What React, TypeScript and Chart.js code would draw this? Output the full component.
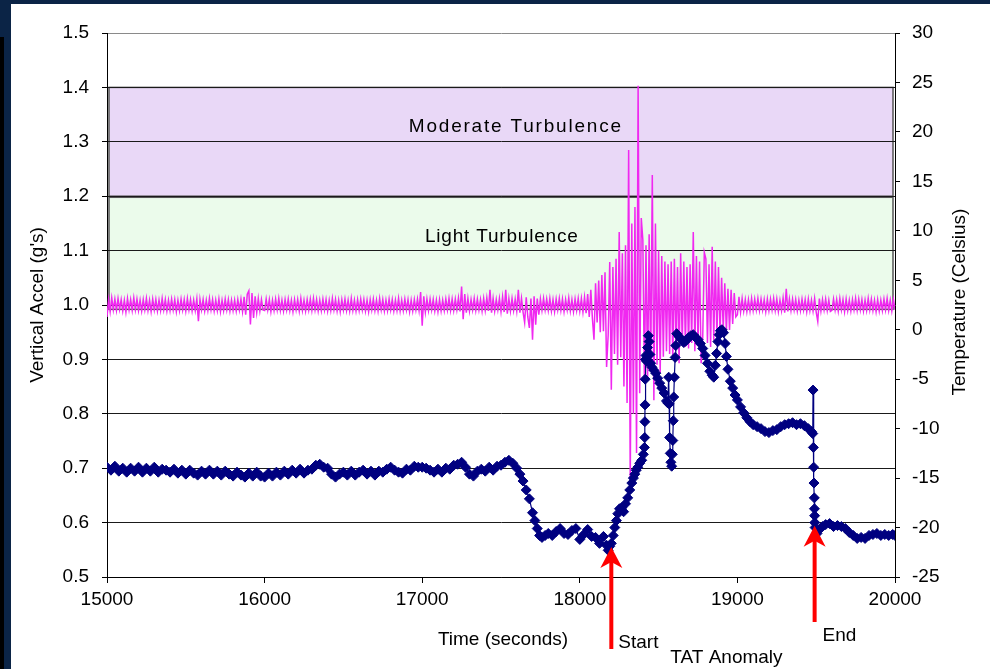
import React, { useEffect, useRef } from 'react';
import { Chart, registerables } from 'chart.js';

Chart.register(...registerables);

// ---------- axis ranges ----------
const X_MIN = 15000;
const X_MAX = 20000;
const X_STEP = 1000;
const ACCEL_MIN = 0.5;
const ACCEL_MAX = 1.5;
const ACCEL_TICK = 0.1;
const TEMP_MIN = -25;
const TEMP_MAX = 30;
const TEMP_TICK = 5;

// ---------- temperature (Celsius) readings ----------
const tempTimes = [
  15000, 15025, 15050, 15075, 15100, 15125, 15150, 15175, 15200, 15225,
  15250, 15275, 15300, 15325, 15350, 15375, 15400, 15425, 15450, 15475,
  15500, 15525, 15550, 15575, 15600, 15625, 15650, 15675, 15700, 15725,
  15750, 15775, 15800, 15825, 15850, 15875, 15900, 15925, 15950, 15975,
  16000, 16025, 16050, 16075, 16100, 16125, 16150, 16175, 16200, 16225,
  16250, 16275, 16300, 16325, 16350, 16375, 16400, 16425, 16450, 16475,
  16500, 16525, 16550, 16575, 16600, 16625, 16650, 16675, 16700, 16725,
  16750, 16775, 16800, 16825, 16850, 16875, 16900, 16925, 16950, 16975,
  17000, 17025, 17050, 17075, 17100, 17125, 17150, 17175, 17200, 17225,
  17250, 17275, 17300, 17325, 17350, 17375, 17400, 17425, 17450, 17475,
  17500, 17525, 17550, 17575, 17600, 17620, 17640, 17660, 17680, 17700,
  17715, 17730, 17745, 17760, 17780, 17800, 17825, 17850, 17875, 17900,
  17925, 17950, 17975, 18000, 18025, 18050, 18075, 18100, 18125, 18150,
  18170, 18180, 18190, 18200, 18212, 18222, 18232, 18241, 18252, 18266,
  18278, 18290, 18304, 18317, 18330, 18340, 18349, 18358, 18368, 18380,
  18393, 18403, 18410, 18412, 18413, 18414, 18415, 18417, 18420, 18425,
  18430, 18435, 18440, 18445, 18450, 18458, 18470, 18482, 18494, 18507,
  18520, 18535, 18550, 18558, 18564, 18567, 18570, 18574, 18578, 18583,
  18587, 18590, 18593, 18596, 18600, 18605, 18609, 18615, 18630, 18645,
  18660, 18675, 18690, 18705, 18720, 18735, 18750, 18765, 18780, 18795,
  18810, 18825, 18840, 18850, 18860, 18868, 18876, 18884, 18892, 18902,
  18912, 18922, 18930, 18940, 18955, 18970, 18985, 19000, 19020, 19040,
  19060, 19080, 19100, 19125, 19150, 19175, 19200, 19225, 19250, 19275,
  19300, 19325, 19350, 19375, 19400, 19425, 19450, 19470, 19478, 19480,
  19482, 19484, 19486, 19488, 19489, 19490, 19491, 19493, 19505, 19520,
  19540, 19560, 19585, 19610, 19635, 19660, 19685, 19710, 19735, 19760,
  19785, 19810, 19835, 19860, 19885, 19910, 19935, 19960, 19985, 20000,
];
const tempValues = [
  -13.9, -14.2, -13.8, -14.3, -14.0, -14.4, -14.0, -14.3, -13.9, -14.4,
  -14.0, -14.3, -13.9, -14.4, -14.1, -14.2, -14.4, -14.1, -14.5, -14.2,
  -14.6, -14.2, -14.5, -14.7, -14.3, -14.6, -14.2, -14.6, -14.3, -14.7,
  -14.3, -14.6, -14.8, -14.4, -14.7, -14.9, -14.5, -14.8, -14.4, -14.8,
  -14.9, -14.5, -14.8, -14.4, -14.7, -14.3, -14.6, -14.2, -14.5, -14.1,
  -14.5, -14.2, -14.1, -13.7, -13.6, -13.9, -14.0, -14.6, -14.9, -14.6,
  -14.4, -14.7, -14.3, -14.7, -14.4, -14.2, -14.6, -14.3, -14.7, -14.3,
  -14.4, -14.1, -13.9, -14.2, -14.4, -14.5, -14.1, -14.2, -13.8, -13.9,
  -13.9, -14.0, -14.2, -14.4, -14.1, -14.4, -14.0, -14.1, -13.7, -13.6,
  -13.4, -13.9, -14.6, -14.8, -14.3, -14.1, -14.3, -13.9, -14.2, -13.8,
  -13.7, -13.4, -13.2, -13.5, -14.0, -14.6, -15.3, -16.2, -17.1, -18.5,
  -19.3, -20.1, -20.8, -21.0, -20.8, -20.6, -20.8, -20.4, -20.1, -20.6,
  -20.7, -20.3, -20.1, -21.2, -20.7, -20.2, -20.9, -21.0, -21.6, -20.9,
  -21.8, -22.3, -21.9, -21.6, -20.8, -20.0, -19.3, -18.6, -18.1, -18.0,
  -18.4, -17.6, -17.0, -16.2, -15.5, -15.0, -14.6, -14.2, -13.9, -13.5,
  -13.2, -12.6, -11.9, -10.9, -9.3, -7.6, -5.0, -3.0, -2.6, -3.2,
  -1.8, -0.6, -1.2, -2.5, -3.4, -3.8, -4.1, -4.4, -4.9, -5.4,
  -5.9, -6.4, -7.2, -7.4, -4.8, -7.5, -10.9, -12.5, -13.4, -13.8,
  -12.6, -11.2, -9.2, -6.8, -4.8, -2.8, -1.6, -0.4, -0.7, -1.0,
  -1.3, -1.1, -0.8, -0.6, -0.5, -0.8, -1.0, -1.4, -1.9, -2.6,
  -3.4, -4.2, -4.6, -4.8, -3.6, -2.4, -1.2, -0.5, -0.1, 0.0,
  -0.3, -1.4, -2.7, -4.0, -5.2, -5.9, -6.6, -7.1, -7.8, -8.4,
  -8.9, -9.3, -9.6, -9.8, -10.0, -10.3, -10.4, -10.2, -10.1, -9.8,
  -9.6, -9.5, -9.4, -9.6, -9.5, -9.7, -10.0, -10.3, -10.5, -6.1,
  -11.9, -13.9, -15.5, -17.0, -18.1, -18.8, -19.5, -20.0, -20.6, -20.2,
  -19.9, -19.7, -19.6, -19.9, -19.8, -19.9, -20.1, -20.5, -20.8, -21.1,
  -21.0, -21.1, -20.8, -20.7, -20.6, -20.8, -20.7, -20.8, -20.7, -20.8,
];

// ---------- vertical acceleration: deviation from 1 g, in milli-g, one reading every 10 s ----------
const accelStartTime = 15000;
const accelStepSeconds = 10;
const accelDevMilliG = [
  -22, 10, -12, 13, -9, 11, -10, 12, -8, 10, -11, 9, -13, 12, -9, 10, -10, 13, -9, 11,
  -10, 9, -11, 10, -9, 12, -10, 9, -12, 11, -9, 10, -11, 9, -10, 12, -9, 10, -11, 9,
  -10, 11, -9, 10, -12, 9, -10, 11, -9, 10, -11, 12, -9, 10, -11, 9, -10, 11, -30, 10,
  -9, 10, -11, 9, -10, 12, -9, 10, -11, 9, -10, 11, -12, 9, -10, 11, -9, 10, -11, 9,
  -10, 9, -11, 10, -9, 11, -12, 15, -18, 20, 26, -36, 22, -24, 16, -14, 12, -11, 10, -9,
  -10, 11, -9, 10, -12, 9, -10, 11, -9, 12, -10, 9, -11, 10, -9, 11, -10, 9, -12, 10,
  -9, 10, -11, 12, -10, 9, -11, 10, -9, 11, -10, 12, -9, 10, -11, 9, -10, 11, -9, 10,
  -11, 9, -10, 12, -9, 10, -11, 9, -12, 10, -9, 11, -10, 9, -11, 12, -10, 9, -11, 10,
  -10, 11, -9, 10, -11, 9, -12, 10, -9, 11, -10, 9, -11, 12, -9, 10, -11, 9, -10, 11,
  -9, 10, -11, 9, -10, 12, -11, 9, -10, 11, -9, 10, -12, 9, -11, 10, -9, 11, -10, 24,
  -38, 16, -13, 11, -10, 11, -9, 10, -11, 9, -12, 10, -11, 9, -10, 11, -9, 12, -10, 11,
  -10, 11, -9, 13, -12, 34, -26, 20, -14, 12, -11, 10, -9, 12, -10, 11, -9, 10, -11, 12,
  -10, 13, -11, 28, -14, 12, -11, 10, -9, 12, -12, 15, -13, 28, -16, 12, -11, 12, -10, 11,
  -11, 28, -14, 12, -13, -32, 14, -22, -42, 12, -64, 16, -36, 12, -18, 11, -10, 12, -9, 11,
  -10, 12, -11, 10, -12, 11, -9, 12, -10, 11, -12, 10, -9, 13, -11, 10, -12, 11, -10, 12,
  -11, 12, -13, 14, -15, 20, -22, 28, -25, -64, 40, -32, 45, -50, 55, -48, 60, -114, -55, 79,
  -156, 70, -90, 85, -110, 134, -96, 95, -150, 110, -180, 285, -327, 150, -200, 180, -272, 403, -162, 160,
  120, -140, 110, -138, 130, -120, 239, -175, 150, -110, 100, -125, 90, -95, 80, -85, 75, -90, 80, -101,
  85, -80, 70, -107, 95, -75, 80, -77, 70, -80, 75, -70, 134, -85, 90, -75, 80, -107, -60, 97,
  85, -70, 75, -77, 107, -65, 80, -60, 70, -55, 50, -46, 40, -50, 30, -46, 28, -35, 22, -22,
  -18, 15, -13, 12, -11, 10, -12, 10, -11, 12, -10, 11, -9, 12, -10, 11, -9, 10, -12, 11,
  -10, 11, -9, 12, -10, 11, -12, 9, -10, 13, -14, 30, -12, 11, -10, 11, -9, 10, -11, 9,
  -10, 11, -9, 10, -12, 11, -10, 9, -11, 12, -13, -30, 12, -11, 10, -9, 11, -10, 9, -12,
  -10, 11, -9, 10, -11, 12, -9, 10, -12, 11, -10, 9, -11, 10, -9, 12, -10, 11, -9, 10,
  -11, 9, -10, 12, -9, 11, -10, 9, -12, 10, -11, 9, -10, 11, -9, 12, -10, 9, -11, 10,
  -9,
];

// ---------- turbulence bands (g) ----------
const bandNames = ['Moderate Turbulence', 'Light Turbulence'];
const bandLow = [1.2, 0.992];
const bandHigh = [1.4, 1.198];

// ---------- event markers ----------
const eventTimes = [18200, 19490];
const eventLabels = ['Start', 'End'];
const eventTipAccel = [0.555, 0.594];
const eventNote = 'TAT Anomaly';

const FONT = "'Liberation Sans', Arial, Helvetica, sans-serif";
const BAND_FILLS = ['#e9d8f7', '#ebfbeb'];

const decorPlugin = {
  id: 'decor',
  beforeDraw(chart: any) {
    const { ctx, chartArea: ca, scales } = chart;
    const y = scales.y;
    ctx.save();
    ctx.fillStyle = '#ffffff';
    ctx.fillRect(0, 0, chart.width, chart.height);
    ctx.fillStyle = '#0b2446';
    ctx.fillRect(0, 0, chart.width, 4);
    ctx.fillRect(0, 0, 11, chart.height);
    ctx.fillStyle = '#000000';
    ctx.fillRect(0, 37, 4, chart.height - 37);
    for (let i = 0; i < bandNames.length; i++) {
      const top = y.getPixelForValue(bandHigh[i]);
      const bot = y.getPixelForValue(bandLow[i]);
      ctx.fillStyle = BAND_FILLS[i];
      ctx.fillRect(ca.left + 2, top, ca.right - ca.left - 4, bot - top);
      ctx.strokeStyle = '#555555';
      ctx.lineWidth = 1.5;
      ctx.strokeRect(ca.left + 2, top, ca.right - ca.left - 4, bot - top);
    }
    ctx.restore();
  },
  afterDraw(chart: any) {
    const { ctx, chartArea: ca, scales } = chart;
    const x = scales.x;
    const y = scales.y;
    ctx.save();
    ctx.font = `19px ${FONT}`;
    ctx.fillStyle = '#000000';
    ctx.textBaseline = 'middle';
    // band labels
    ctx.textAlign = 'center';
    (ctx as any).letterSpacing = '1.8px';
    ctx.fillText(bandNames[0], x.getPixelForValue(17594), y.getPixelForValue(1.328));
    (ctx as any).letterSpacing = '0.8px';
    ctx.fillText(bandNames[1], x.getPixelForValue(17505), y.getPixelForValue(1.126));
    (ctx as any).letterSpacing = '0px';
    // axis titles
    ctx.fillText('Time (seconds)', (ca.left + ca.right) / 2 + 2, ca.bottom + 63);
    ctx.save();
    ctx.translate(38, (ca.top + ca.bottom) / 2);
    ctx.rotate(-Math.PI / 2);
    ctx.fillText("Vertical Accel (g's)", 0, 0);
    ctx.restore();
    ctx.save();
    ctx.translate(960, (ca.top + ca.bottom) / 2 - 3);
    ctx.rotate(-Math.PI / 2);
    ctx.fillText('Temperature (Celsius)', 0, 0);
    ctx.restore();
    // event arrows
    const bottoms = [ca.bottom + 72, ca.bottom + 45];
    ctx.fillStyle = '#ff0000';
    ctx.strokeStyle = '#ff0000';
    for (let i = 0; i < eventTimes.length; i++) {
      const px = x.getPixelForValue(eventTimes[i]);
      const tip = y.getPixelForValue(eventTipAccel[i]);
      ctx.lineWidth = 4;
      ctx.beginPath();
      ctx.moveTo(px, bottoms[i]);
      ctx.lineTo(px, tip + 14);
      ctx.stroke();
      ctx.beginPath();
      ctx.moveTo(px, tip);
      ctx.lineTo(px + 11, tip + 21);
      ctx.lineTo(px, tip + 15);
      ctx.lineTo(px - 11, tip + 21);
      ctx.closePath();
      ctx.fill();
    }
    ctx.fillStyle = '#000000';
    ctx.textAlign = 'left';
    const sx = x.getPixelForValue(eventTimes[0]);
    const ex = x.getPixelForValue(eventTimes[1]);
    ctx.fillText(eventLabels[0], sx + 7, ca.bottom + 66);
    ctx.fillText(eventNote, sx + 59, ca.bottom + 81);
    ctx.fillText(eventLabels[1], ex + 8, ca.bottom + 59);
    ctx.restore();
  },
};

export default function App() {
  const ref = useRef<HTMLCanvasElement | null>(null);
  useEffect(() => {
    if (!ref.current) return;
    Chart.defaults.font.family = FONT;
    Chart.defaults.font.size = 19;
    Chart.defaults.color = '#000000';
    const tempData = tempTimes.map((t, i) => ({ x: t, y: tempValues[i] }));
    const accelData = accelDevMilliG.map((d, i) => ({
      x: accelStartTime + i * accelStepSeconds,
      y: 1 + d / 1000,
    }));
    const chart = new Chart(ref.current, {
      type: 'line',
      data: {
        datasets: [
          {
            label: 'Temperature',
            data: tempData,
            xAxisID: 'x',
            yAxisID: 'y1',
            borderColor: '#000080',
            borderWidth: 1.2,
            pointStyle: 'rectRot',
            pointRadius: 5,
            pointBorderWidth: 1,
            pointBackgroundColor: '#000080',
            pointBorderColor: '#000080',
            tension: 0,
          },
          {
            label: 'Vertical Accel',
            data: accelData,
            xAxisID: 'x',
            yAxisID: 'y',
            borderColor: '#f028f0',
            borderWidth: 1.5,
            pointRadius: 0,
            tension: 0,
          },
        ],
      },
      options: {
        animation: false,
        responsive: false,
        events: [],
        layout: { padding: { top: 33, left: 0, right: 0, bottom: 0 } },
        plugins: { legend: { display: false }, tooltip: { enabled: false } },
        scales: {
          x: {
            type: 'linear',
            min: X_MIN,
            max: X_MAX,
            afterFit: (s: any) => { s.height = 92; },
            ticks: { stepSize: X_STEP, padding: 5, callback: (v: any) => String(v), maxRotation: 0 },
            grid: { drawOnChartArea: false, drawTicks: true, tickLength: 6, tickColor: '#000' },
            border: { color: '#000', width: 1 },
          },
          y: {
            type: 'linear',
            position: 'left',
            min: ACCEL_MIN,
            max: ACCEL_MAX,
            afterFit: (s: any) => { s.width = 107; },
            ticks: { stepSize: ACCEL_TICK, padding: 13, callback: (v: any) => Number(v).toFixed(1) },
            grid: {
              color: (c: any) => (c.tick && c.tick.value > 1.49 ? '#8a8a8a' : '#1a1a1a'),
              lineWidth: 1,
              tickLength: 5,
              tickColor: '#000',
            },
            border: { color: '#000', width: 1 },
          },
          y1: {
            type: 'linear',
            position: 'right',
            min: TEMP_MIN,
            max: TEMP_MAX,
            afterFit: (s: any) => { s.width = 95; },
            ticks: { stepSize: TEMP_TICK, padding: 12, callback: (v: any) => String(v) },
            grid: { drawOnChartArea: false, tickLength: 5, tickColor: '#000' },
            border: { color: '#000', width: 1 },
          },
        },
      },
      plugins: [decorPlugin],
    });
    return () => chart.destroy();
  }, []);
  return (
    <div style={{ position: 'fixed', left: 0, top: 0, width: 990, height: 669, background: '#fff' }}>
      <canvas ref={ref} width={990} height={669} style={{ display: 'block' }} />
    </div>
  );
}
